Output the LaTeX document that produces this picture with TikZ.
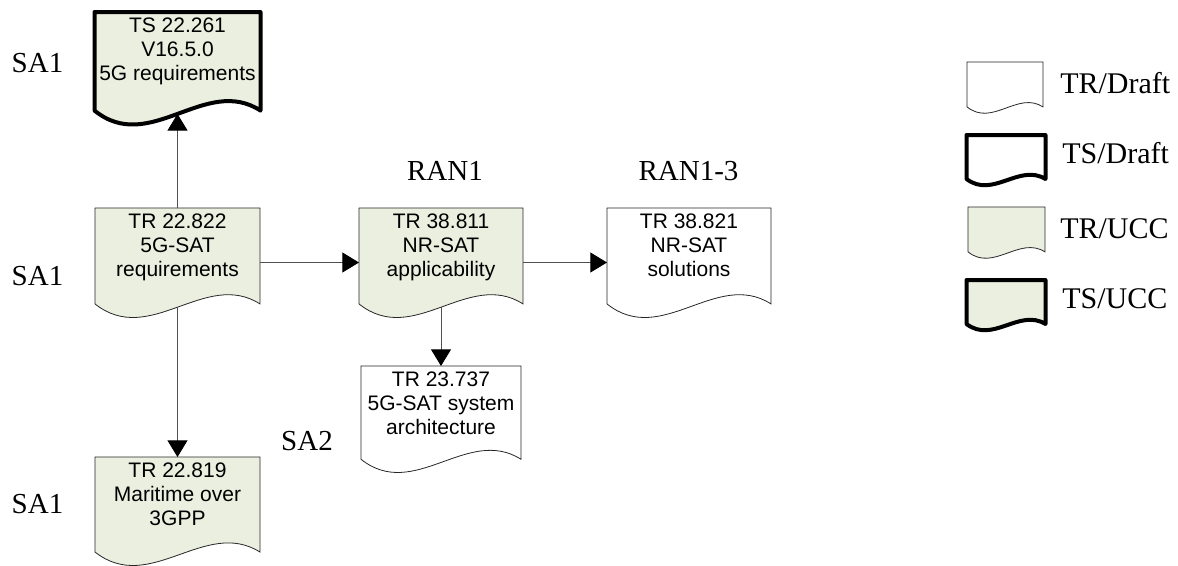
\documentclass[tikz,border=0pt]{standalone}
\usepackage{fontspec}
\setmainfont{Liberation Serif}
\newfontfamily\arialf{Liberation Sans}
\usetikzlibrary{arrows.meta}
\definecolor{ucc}{RGB}{235,239,223}
\definecolor{lnc}{RGB}{80,80,80}
\tikzset{
  trdraft/.style={fill=white, draw=black!85, line width=0.6pt},
  trucc/.style={fill=ucc, draw=black!85, line width=0.6pt},
  tsdraft/.style={fill=white, draw=black, line width=3pt, line join=round},
  tsucc/.style={fill=ucc, draw=black, line width=3pt, line join=round},
  docframe/.style={draw=none, inner sep=0pt, outer sep=0pt, rectangle},
  doctext/.style={inner sep=0pt, align=center, font=\arialf\fontsize{15.75}{18}\selectfont},
  grp/.style={inner sep=0pt, font=\fontsize{21.75}{24}\selectfont, anchor=base},
  legtext/.style={inner sep=0pt, font=\fontsize{22.5}{26}\selectfont, anchor=base west},
  conn/.style={draw=lnc, line width=0.75pt, -{Triangle[length=12.5pt,width=15pt,color=black]}}
}
% #1 name, #2 center x, #3 top y, #4 width, #5 height, #6 style, #7 text
\newcommand{\docshape}[7]{%
  \path[#6] ({#2-#4/2},#3) -- ({#2+#4/2},#3) -- ({#2+#4/2},{#3+0.88*#5})
    .. controls ({#2+#4/6},{#3+0.56*#5}) and ({#2-#4/6},{#3+1.28*#5}) .. ({#2-#4/2},{#3+0.88*#5}) -- cycle;
  \node[docframe, minimum width={#4*0.75pt}, minimum height={#5*0.75pt}, anchor=north] (#1) at (#2,#3) {};
  \coordinate (#1-w) at (#2,{#3+0.91*#5});
  \node[doctext, anchor=north] (#1-t) at (#2,{#3+6}) {#7};
}
\begin{document}
\begin{tikzpicture}[x=0.75pt,y=-0.75pt]
\useasboundingbox (0,0) rectangle (1178,565);

% documents
\docshape{ts261}{177.5}{12}{166}{112}{tsucc}{TS 22.261\\V16.5.0\\5G requirements}
\docshape{tr822}{177.5}{208}{165}{109}{trucc}{TR 22.822\\5G-SAT\\requirements}
\docshape{tr811}{441}{208}{164}{109}{trucc}{TR 38.811\\NR-SAT\\applicability}
\docshape{tr821}{689}{208}{164}{109}{trdraft}{TR 38.821\\NR-SAT\\solutions}
\docshape{tr737}{441}{366}{160}{106}{trdraft}{TR 23.737\\5G-SAT system\\architecture}
\docshape{tr819}{177.5}{457}{165}{108}{trucc}{TR 22.819\\Maritime over\\3GPP}

% group labels
\node[grp] (sa1a) at (37.5,72) {SA1};
\node[grp] (sa1b) at (37.5,285) {SA1};
\node[grp] (sa1c) at (37.5,513) {SA1};
\node[grp] (ran1) at (445,180) {RAN1};
\node[grp] (ran13) at (688.5,180) {RAN1-3};
\node[grp] (sa2) at (307,450) {SA2};

% connectors
\draw[conn] (tr822.north) -- (ts261-w);
\draw[conn] (tr822.east) -- (tr811.west);
\draw[conn] (tr811.east) -- (tr821.west);
\draw[conn] (tr811-w) -- (tr737.north);
\draw[conn] (tr822-w) -- (tr819.north);

% legend
\docshape{lg1}{1005}{62}{76}{51}{trdraft}{}
\docshape{lg2}{1006}{135}{79}{50}{tsdraft}{}
\docshape{lg3}{1006.5}{207}{77}{51}{trucc}{}
\docshape{lg4}{1006}{280}{79}{50}{tsucc}{}
\node[legtext] (l1) at (1060,93) {TR/Draft};
\node[legtext] (l2) at (1062,163) {TS/Draft};
\node[legtext] (l3) at (1060,238) {TR/UCC};
\node[legtext] (l4) at (1062,308) {TS/UCC};
\end{tikzpicture}
\end{document}
